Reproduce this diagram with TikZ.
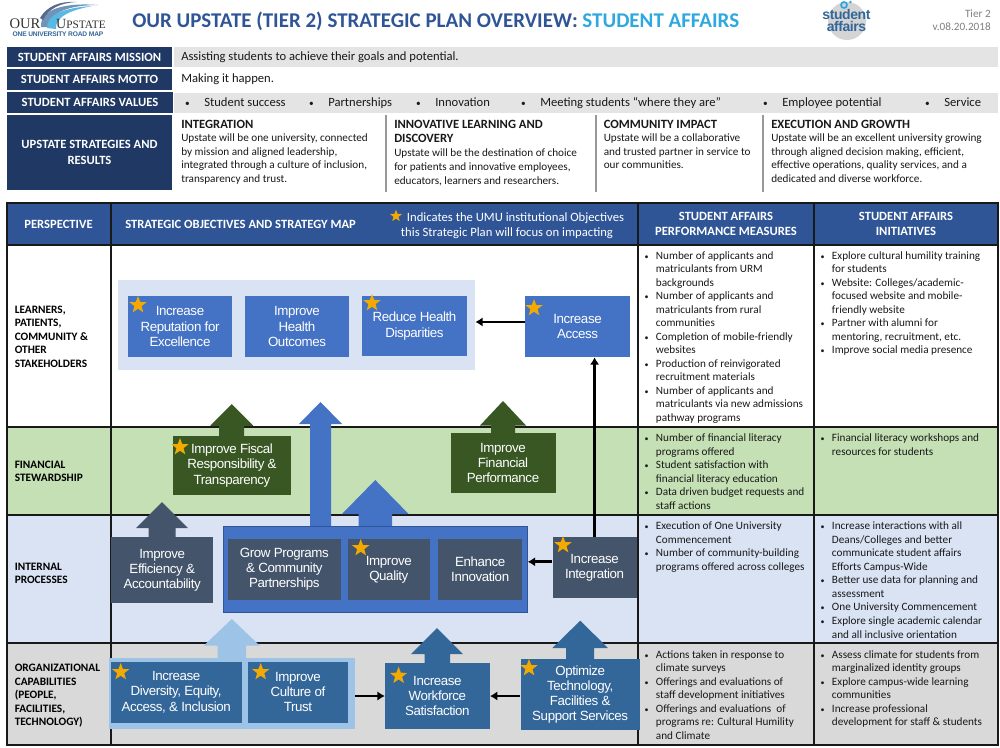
\documentclass[tikz,border=0pt]{standalone}
\usepackage{fontspec}
\setmainfont{Carlito}
\newfontfamily\arialfont[LetterSpace=-3]{Liberation Sans}
\newfontfamily\logofont{Liberation Serif}
\usetikzlibrary{arrows.meta,shapes.geometric}
\definecolor{navy}{HTML}{1F3864}
\definecolor{headblue}{HTML}{2F5597}
\definecolor{skytitle}{HTML}{2FA8DF}
\definecolor{bandgrey}{HTML}{E4E4E4}
\definecolor{rowgreen}{HTML}{C5E0B4}
\definecolor{rowblue}{HTML}{DAE3F3}
\definecolor{rowgrey}{HTML}{D9D9D9}
\definecolor{mapblue}{HTML}{4472C4}
\definecolor{mapgreen}{HTML}{385723}
\definecolor{mapslate}{HTML}{44546A}
\definecolor{mapsteel}{HTML}{336699}
\definecolor{maplight}{HTML}{9DC3E6}
\definecolor{stargold}{HTML}{F2A900}
\tikzset{
  size/.style 2 args={minimum width=#1*0.75pt,minimum height=#2*0.75pt},
  bar/.style={fill=navy,text=white,inner sep=0pt,align=center,font=\fontsize{9.45}{11.6}\selectfont\bfseries},
  body/.style={anchor=north west,inner sep=0pt,align=left,text=black!90,font=\fontsize{8.4}{10.15}\selectfont},
  toptext/.style={anchor=west,inner sep=0pt,text height=6.5pt,text depth=2pt,text=black!90,font=\fontsize{9.45}{11}\selectfont},
  rowlabel/.style={anchor=north west,inner sep=0pt,align=left,font=\fontsize{8.5}{10.15}\selectfont\bfseries},
  headtext/.style={inner sep=0pt,align=center,text=white,font=\fontsize{9.45}{11.2}\selectfont\bfseries},
  mapbox/.style={inner sep=0pt,align=center,text=white,font=\arialfont\fontsize{10}{11.4}\selectfont},
  goldstar/.style={star,star points=5,star point ratio=2.4,fill=stargold,inner sep=0pt,minimum size=13.5pt},
  flow/.style={line width=2.2pt,-{Latex[length=5.5pt,width=7pt]}},
  cell/.style={line width=1.5pt,draw=black!90}
}
% bullets hung left of a text line
\newcommand{\hb}{\llap{{\fontsize{6}{6}\selectfont\textbullet}\hspace{5.6pt}}}
\newcommand{\hbwide}{\llap{{\fontsize{7}{7}\selectfont\textbullet}\hspace{10.8pt}}}
% strategy heading
\newcommand{\sh}[1]{{\fontsize{9.45}{10}\selectfont\bfseries #1}}
% block arrow: colour, shaft l, shaft r, head l, head r, head y, apex y, foot y
\newcommand{\blockarrow}[8]{\fill[#1] (#2,#8) -- (#2,#6) -- (#4,#6) -- ({(#4+#5)/2},#7) -- (#5,#6) -- (#3,#6) -- (#3,#8) -- cycle;}
\begin{document}
\begin{tikzpicture}[x=0.75pt,y=-0.75pt]
\useasboundingbox (0,0) rectangle (1000,747);
\fill[white] (0,0) rectangle (1000,747);

% logos
\fill[mapsteel!70!white] (41,27) .. controls (40,12) and (58,2) .. (98,5) .. controls (70,5) and (50,12) .. (49,27) -- cycle;
\fill[skytitle!80!white] (47,28) .. controls (47,15) and (62,8) .. (92,6) .. controls (72,10) and (55,16) .. (56,29) -- cycle;
\fill[navy!75!white] (40,18) .. controls (47,6) and (60,1) .. (76,2) .. controls (60,3) and (48,9) .. (43,20) -- cycle;
\node[inner sep=0pt,text=black!80,font=\logofont\fontsize{11}{11}\selectfont] (logoour) at (25,24) {OUR};
\node[inner sep=0pt,text=black!80,font=\logofont\fontsize{10.5}{11}\selectfont] (logoup) at (81,24) {U\fontsize{8.5}{11}\selectfont PSTATE};
\node[inner sep=0pt,text=mapsteel,font=\arialfont\fontsize{5}{6}\selectfont\bfseries] (logoroad) at (58,34) {ONE UNIVERSITY ROAD MAP};
\fill[black!17] (847,21) circle (19);
\draw[skytitle,line width=1.3pt] (844,5) circle (3);
\fill[skytitle] (850.5,2) circle (1.3);
\node[inner sep=0pt,text=mapsteel,font=\arialfont\fontsize{10.5}{9}\selectfont\bfseries] (logostudent) at (846.5,14) {student};
\node[inner sep=0pt,text=mapsteel,font=\arialfont\fontsize{10.5}{9}\selectfont\bfseries] (logoaffairs) at (846.5,26.5) {affairs};

% title
\node[anchor=west,inner sep=0pt,text=headblue,font=\fontsize{15.72}{18}\selectfont\bfseries] (title) at (132,21) {OUR UPSTATE (TIER 2) STRATEGIC PLAN OVERVIEW: \textcolor{skytitle}{STUDENT AFFAIRS}};
\node[anchor=east,inner sep=0pt,text=black!50,align=right,font=\fontsize{8.4}{10}\selectfont] (version) at (991,20.5) {Tier 2\\v.08.20.2018};

% top rows
\fill[bandgrey] (174,47) rectangle (998,67);
\fill[bandgrey] (174,92.5) rectangle (998,113);
\node[bar,size={165}{20}] (mission) at (89.5,57) {STUDENT AFFAIRS MISSION};
\node[bar,size={165}{21}] (motto) at (89.5,79.5) {STUDENT AFFAIRS MOTTO};
\node[bar,size={166}{20.5}] (values) at (90,102.7) {STUDENT AFFAIRS VALUES};
\node[bar,size={165}{75}] (strategies) at (89.5,152.5) {UPSTATE STRATEGIES AND\\RESULTS};
\node[toptext] (missiontext) at (181,57) {Assisting students to achieve their goals and potential.};
\node[toptext] (mottotext) at (181,79.5) {Making it happen.};
\node[toptext] (val1) at (204,103) {\hbwide Student success};
\node[toptext] (val2) at (328,103) {\hbwide Partnerships};
\node[toptext] (val3) at (435,103) {\hbwide Innovation};
\node[toptext] (val4) at (540,103) {\hbwide Meeting students “where they are”};
\node[toptext] (val5) at (782,103) {\hbwide Employee potential};
\node[toptext] (val6) at (944,103) {\hbwide Service};

\draw[black!40,line width=1.5pt] (386,115) -- (386,192); \draw[black!40,line width=1.5pt] (596,115) -- (596,192); \draw[black!40,line width=1.5pt] (763,115) -- (763,192);
\node[body] (strat1) at (181,119.5) {\sh{INTEGRATION}\\Upstate will be one university, connected\\by mission and aligned leadership,\\integrated through a culture of inclusion,\\transparency and trust.};
\node[body,font=\fontsize{8.4}{10.5}\selectfont] (strat2) at (394,119.5) {\sh{INNOVATIVE LEARNING AND}\\\sh{DISCOVERY}\\Upstate will be the destination of choice\\for patients and innovative employees,\\educators, learners and researchers.};
\node[body] (strat3) at (603.5,119.5) {\sh{COMMUNITY IMPACT}\\Upstate will be a collaborative\\and trusted partner in service to\\our communities.};
\node[body] (strat4) at (771,119.5) {\sh{EXECUTION AND GROWTH}\\Upstate will be an excellent university growing\\through aligned decision making, efficient,\\effective operations, quality services, and a\\dedicated and diverse workforce.};

% table
\fill[headblue] (7,203) rectangle (998,245);
\fill[rowgreen] (7,427) rectangle (998,515);
\fill[rowblue] (7,515) rectangle (998,643);
\fill[rowgrey] (7,643) rectangle (998,745);
\draw[cell] (7,203) rectangle (998,745);
\draw[cell] (7,245) -- (998,245); \draw[cell] (7,427) -- (998,427);
\draw[cell] (7,515) -- (998,515); \draw[cell] (7,643) -- (998,643);
\draw[cell] (110.5,203) -- (110.5,745); \draw[cell] (638,203) -- (638,745); \draw[cell] (814,203) -- (814,745);

\node[headtext] (headpersp) at (58.5,224) {PERSPECTIVE};
\node[headtext,anchor=west] (headmap) at (125,224) {STRATEGIC OBJECTIVES AND STRATEGY MAP};
\node[headtext,font=\fontsize{9.5}{11.2}\selectfont] (headnote) at (507,226) {\hspace{12.75pt}Indicates the UMU institutional Objectives\\this Strategic Plan will focus on impacting};
\node[goldstar,minimum size=9.5pt] (notestar) at (396,216) {};
\node[headtext] (headmeasures) at (726,223.5) {STUDENT AFFAIRS\\PERFORMANCE MEASURES};
\node[headtext] (headinit) at (906,223.5) {STUDENT AFFAIRS\\INITIATIVES};

\node[rowlabel] (rowlearn) at (14.5,305.5) {LEARNERS,\\PATIENTS,\\COMMUNITY \&\\OTHER\\STAKEHOLDERS};
\node[rowlabel] (rowfin) at (14.5,460.5) {FINANCIAL\\STEWARDSHIP};
\node[rowlabel] (rowint) at (14.5,562.5) {INTERNAL\\PROCESSES};
\node[rowlabel] (rowcap) at (14.5,664) {ORGANIZATIONAL\\CAPABILITIES\\(PEOPLE,\\FACILITIES,\\TECHNOLOGY)};

% measures
\node[body] (meas1) at (655.7,251) {\hb Number of applicants and\\matriculants from URM\\backgrounds\\\hb Number of applicants and\\matriculants from rural\\communities\\\hb Completion of mobile-friendly\\websites\\\hb Production of reinvigorated\\recruitment materials\\\hb Number of applicants and\\matriculants via new admissions\\pathway programs};
\node[body] (meas2) at (655.7,433.7) {\hb Number of financial literacy\\programs offered\\\hb Student satisfaction with\\financial literacy education\\\hb Data driven budget requests and\\staff actions};
\node[body] (meas3) at (655.7,521.7) {\hb Execution of One University\\Commencement\\\hb Number of community-building\\programs offered across colleges};
\node[body] (meas4) at (655.7,650) {\hb Actions taken in response to\\climate surveys\\\hb Offerings and evaluations of\\staff development initiatives\\\hb Offerings and evaluations\ \ of\\programs re: Cultural Humility\\and Climate};

% initiatives
\node[body] (init1) at (831.7,251) {\hb Explore cultural humility training\\for students\\\hb Website: Colleges/academic-\\focused website and mobile-\\friendly website\\\hb Partner with alumni for\\mentoring, recruitment, etc.\\\hb Improve social media presence};
\node[body] (init2) at (831.7,433.7) {\hb Financial literacy workshops and\\resources for students};
\node[body] (init3) at (831.7,521.7) {\hb Increase interactions with all\\Deans/Colleges and better\\communicate student affairs\\Efforts Campus-Wide\\\hb Better use data for planning and\\assessment\\\hb One University Commencement\\\hb Explore single academic calendar\\and all inclusive orientation};
\node[body] (init4) at (831.7,650) {\hb Assess climate for students from\\marginalized identity groups\\\hb Explore campus-wide learning\\communities\\\hb Increase professional\\development for staff \& students};

% block arrows
\blockarrow{mapgreen}{219}{244}{210}{253.5}{426}{404}{437}
\blockarrow{mapgreen}{491}{515}{480}{526}{425.5}{401}{434}
\blockarrow{mapblue}{310}{331}{299}{342}{424}{402}{527}
\blockarrow{mapblue}{358.6}{392}{342}{408.6}{514}{480}{527}
\blockarrow{mapslate}{148.6}{175.5}{136}{188}{528}{502}{538}
\blockarrow{maplight}{217.6}{246}{204}{259.6}{645.5}{619}{658}
\blockarrow{mapsteel}{424.5}{450}{411}{463}{654}{628}{664}
\blockarrow{mapsteel}{566}{594}{552.4}{608}{648}{620.7}{660}

% learners
\node[inner sep=0pt,fill=rowblue,size={357.5}{90}] (topgroup) at (296.3,325) {};
\node[mapbox,fill=mapblue,size={104}{61}] (reputation) at (180,326.5) {Increase\\Reputation for\\Excellence};
\node[mapbox,fill=mapblue,size={104}{61}] (outcomes) at (297,326.5) {Improve\\Health\\Outcomes};
\node[mapbox,fill=mapblue,size={105}{60}] (disparities) at (414.5,326) {Reduce Health\\Disparities};
\node[mapbox,fill=mapblue,size={105}{61}] (access) at (577.5,326.5) {Increase\\Access};

% financial
\node[mapbox,fill=mapgreen,size={118}{59}] (fiscal) at (232,465.5) {Improve Fiscal\\Responsibility \&\\Transparency};
\node[mapbox,fill=mapgreen,size={105}{60}] (financial) at (503,463) {Improve\\Financial\\Performance};

% internal
\node[mapbox,fill=mapslate,size={102}{66}] (efficiency) at (162.2,570) {Improve\\Efficiency \&\\Accountability};
\node[inner sep=0pt,draw=headblue,fill=mapblue,size={304}{86}] (bigbox) at (375.5,569.7) {};
\node[mapbox,fill=mapslate,size={113}{61}] (programs) at (284.3,569.5) {Grow Programs\\\& Community\\Partnerships};
\node[mapbox,fill=mapslate,size={82.5}{61}] (quality) at (388.8,569.5) {Improve\\Quality};
\node[mapbox,fill=mapslate,size={84.5}{61}] (innovation) at (480.2,569.5) {Enhance\\Innovation};
\node[mapbox,fill=mapslate,size={84}{61}] (integration) at (594.6,567.5) {Increase\\Integration};

% capabilities
\node[inner sep=0pt,fill=maplight,size={246.5}{71.5}] (capgroup) at (231.8,693.5) {};
\node[mapbox,fill=mapsteel,size={131}{61}] (diversity) at (176.2,692.2) {Increase\\Diversity, Equity,\\Access, \& Inclusion};
\node[mapbox,fill=mapsteel,size={100}{61}] (trust) at (298,692.2) {Improve\\Culture of\\Trust};
\node[mapbox,fill=mapsteel,size={104.7}{66}] (workforce) at (437.4,696) {Increase\\Workforce\\Satisfaction};
\node[mapbox,fill=mapsteel,size={119}{71}] (optimize) at (580.2,694.5) {Optimize\\Technology,\\Facilities \&\\Support Services};

% connectors
\draw[flow] ([yshift=3.4pt]access.west) -- ([yshift=3.4pt]access.west -| topgroup.east);
\draw[flow] (integration.north) -- (integration.north |- access.south);
\draw[flow] ([yshift=4.3pt]integration.west) -- ([yshift=4.3pt]integration.west -| bigbox.east);
\draw[flow] (capgroup.east |- workforce.west) -- (workforce.west);
\draw[flow] (optimize.west |- workforce.east) -- (workforce.east);

% stars
\node[goldstar] (star1) at (138,305) {};
\node[goldstar] (star2) at (372,303) {};
\node[goldstar] (star3) at (534,308) {};
\node[goldstar] (star4) at (180,447) {};
\node[goldstar] (star5) at (360.7,548) {};
\node[goldstar] (star6) at (563,545) {};
\node[goldstar] (star7) at (120.7,672) {};
\node[goldstar] (star8) at (260.7,672) {};
\node[goldstar] (star9) at (398.6,675.7) {};
\node[goldstar] (star10) at (529,668) {};
\end{tikzpicture}
\end{document}
